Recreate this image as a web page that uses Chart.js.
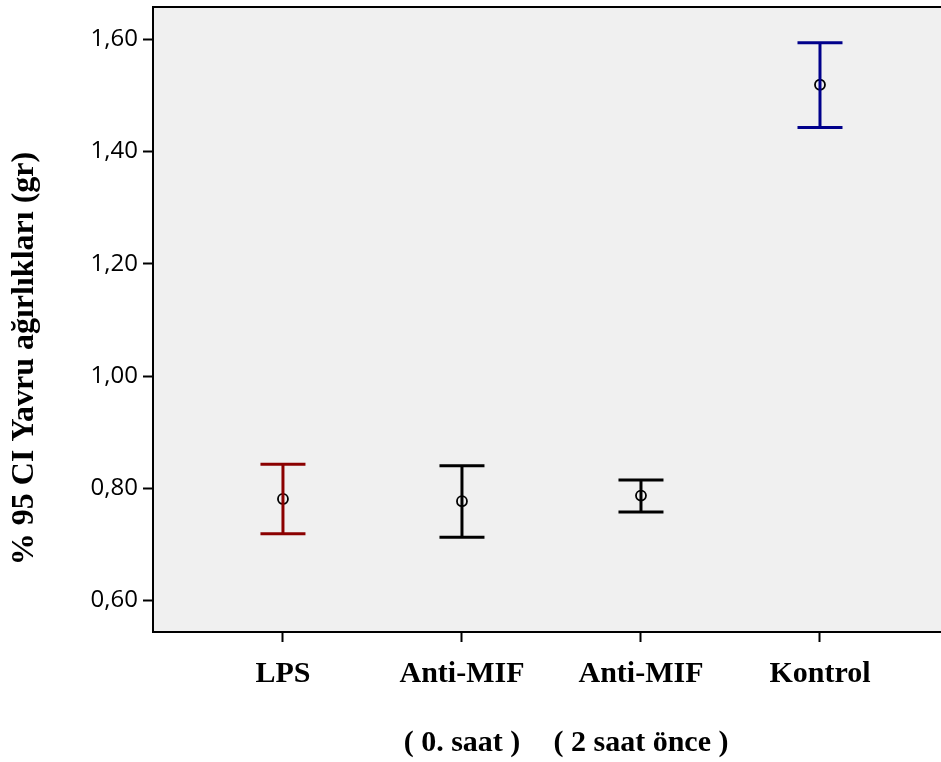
<!DOCTYPE html>
<html>
<head>
<meta charset="utf-8">
<script src="https://cdn.jsdelivr.net/npm/chart.js@4/dist/chart.umd.min.js"></script>
<style>
html,body{margin:0;padding:0;background:#fff;}
#wrap{width:941px;height:762px;position:relative;}
</style>
</head>
<body>
<div id="wrap"><canvas id="c" width="941" height="762"></canvas></div>
<script>
// ---- data ----
const categories = [["LPS"], ["Anti-MIF", "", "( 0. saat )"], ["Anti-MIF", "", "( 2 saat önce )"], ["Kontrol"]];
const means = [0.781, 0.777, 0.787, 1.519];
const lowerCI = [0.719, 0.713, 0.758, 1.443];
const upperCI = [0.843, 0.840, 0.815, 1.594];
const yTicks = [0.60, 0.80, 1.00, 1.20, 1.40, 1.60];
const yTitle = "% 95 CI Yavru ağırlıkları (gr)";
const barColors = ["#8b0000", "#000000", "#000000", "#00008b"];

const datasets = [];
categories.forEach((c, i) => {
  datasets.push({
    type: 'scatter',
    data: [{x: i, y: lowerCI[i]}, {x: i, y: upperCI[i]}],
    showLine: true,
    borderColor: barColors[i],
    borderWidth: 3,
    pointStyle: 'line',
    pointRadius: 22.5,
    pointBorderWidth: 3,
    pointBorderColor: barColors[i],
    pointHoverRadius: 22.5,
    clip: false
  });
});
datasets.push({
  type: 'scatter',
  data: means.map((m, i) => ({x: i, y: m})),
  showLine: false,
  pointStyle: 'circle',
  pointRadius: 5,
  pointBorderWidth: 1.8,
  pointBorderColor: '#000',
  pointBackgroundColor: 'rgba(0,0,0,0)',
  clip: false
});

const bgPlugin = {
  id: 'bg',
  beforeDraw(chart) {
    const a = chart.chartArea, ctx = chart.ctx;
    ctx.save();
    ctx.fillStyle = '#f0f0f0';
    ctx.fillRect(a.left, a.top, a.right - a.left, a.bottom - a.top);
    ctx.strokeStyle = '#000';
    ctx.lineWidth = 2;
    ctx.beginPath();
    ctx.moveTo(a.left, a.top);
    ctx.lineTo(a.right, a.top);
    ctx.stroke();
    ctx.restore();
  },
  afterDraw(chart) {
    const a = chart.chartArea, ctx = chart.ctx;
    ctx.save();
    ctx.translate(25, (a.top + a.bottom) / 2 + 39);
    ctx.rotate(-Math.PI / 2);
    ctx.font = 'bold 32px "Liberation Serif"';
    ctx.fillStyle = '#000';
    ctx.textAlign = 'center';
    ctx.textBaseline = 'middle';
    ctx.fillText(yTitle, 0, 0);
    ctx.restore();
  }
};

function noPad(scale) {
  scale.paddingLeft = 0; scale.paddingRight = 0;
  scale.paddingTop = 0; scale.paddingBottom = 0;
}

new Chart(document.getElementById('c'), {
  type: 'scatter',
  data: { datasets },
  plugins: [bgPlugin],
  options: {
    responsive: false,
    animation: false,
    events: [],
    layout: { autoPadding: false, padding: { top: 7, right: 0, left: 0, bottom: 0 } },
    plugins: { legend: { display: false }, tooltip: { enabled: false } },
    scales: {
      x: {
        type: 'linear',
        min: -0.726,
        max: 3.676,
        afterBuildTicks(scale) { scale.ticks = categories.map((c, i) => ({ value: i })); },
        afterFit(scale) { scale.height = 130; noPad(scale); },
        ticks: {
          autoSkip: false,
          maxRotation: 0,
          padding: 15,
          color: '#000',
          font: { family: '"Liberation Serif"', size: 30, weight: 'bold', lineHeight: 1.145 },
          callback: (v) => categories[v]
        },
        grid: { drawOnChartArea: false, drawTicks: true, tickLength: 10, tickColor: '#000', tickWidth: 2 },
        border: { display: true, color: '#000', width: 2 }
      },
      y: {
        type: 'linear',
        min: 0.544,
        max: 1.6575,
        afterBuildTicks(scale) { scale.ticks = yTicks.map(v => ({ value: v })); },
        afterFit(scale) { scale.width = 153; noPad(scale); },
        ticks: {
          padding: 5,
          color: '#000',
          font: { family: '"Open Sans"', size: 24 },
          callback: (v) => Number(v).toFixed(2).replace('.', ',')
        },
        grid: { drawOnChartArea: false, drawTicks: true, tickLength: 10, tickColor: '#000', tickWidth: 2 },
        border: { display: true, color: '#000', width: 2 }
      }
    }
  }
});
</script>
</body>
</html>
